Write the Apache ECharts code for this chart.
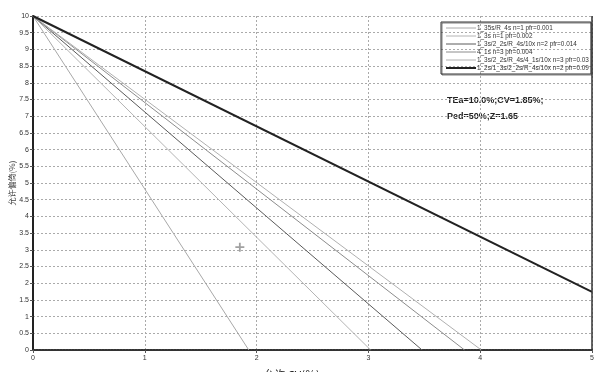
<!DOCTYPE html>
<html><head><meta charset="utf-8">
<script src="https://cdn.jsdelivr.net/npm/echarts@6/dist/echarts.min.js"></script>
<style>html,body{margin:0;padding:0;background:#fff}#c{width:600px;height:372px}</style>
</head><body><div id="c"></div>
<script>
// Data
const seriesNames = [
  '1_35s/R_4s n=1 pfr=0.001',
  '1_3s n=1 pfr=0.002',
  '1_3s/2_2s/R_4s/10x n=2 pfr=0.014',
  '4_1s n=3 pfr=0.004',
  '1_3s/2_2s/R_4s/4_1s/10x n=3 pfr=0.03',
  '1_2s/1_3s/2_2s/R_4s/10x n=2 pfr=0.09'
];
// each line runs from (start x, start y) to (end x, end y)
const lineStartX = [0, 0, 0, 0, 0, 0];
const lineStartY = [10, 10, 10, 10, 10, 10];
const lineEndX   = [1.93, 3.02, 3.48, 3.86, 4.01, 5];
const lineEndY   = [0, 0, 0, 0, 0, 1.74];
const lineColors = ['#a8a8a8', '#b4b4b4', '#5a5a5a', '#8c8c8c', '#b0b0b0', '#222222'];
const lineWidths = [1, 1, 1, 1, 1, 2];
const opPoint = [[1.85, 3.08]];
const yTicks = [0,0.5,1,1.5,2,2.5,3,3.5,4,4.5,5,5.5,6,6.5,7,7.5,8,8.5,9,9.5,10];
const xTicks = [0,1,2,3,4,5];

const chart = echarts.init(document.getElementById('c'), null, {renderer:'canvas'});
const series = seriesNames.map((n,i)=>({
  name:n, type:'line', symbol:'none', silent:true,
  data:[[lineStartX[i], lineStartY[i]], [lineEndX[i], lineEndY[i]]],
  lineStyle:{color:lineColors[i], width:lineWidths[i]},
  itemStyle:{color:lineColors[i]},
  z: i===5?5:3
}));
series.push({
  name:'op', type:'scatter', data:opPoint, symbolSize:9,
  symbol:'path://M4,0H6V4H10V6H6V10H4V6H0V4H4Z',
  itemStyle:{color:'#8a8a8a'}, z:6
});
chart.setOption({
  animation:false,
  backgroundColor:'#fff',
  textStyle:{fontFamily:'Liberation Sans, Arial, sans-serif'},
  grid:{left:33, right:8, top:16, bottom:22, show:false, outerBoundsMode:'none', containLabel:false},
  xAxis:{type:'value', min:0, max:5, interval:1,
    name:'允许 CV(％)', nameLocation:'middle', nameGap:19, nameMoveOverlap:false,
    nameTextStyle:{fontFamily:'Noto Sans CJK SC', fontSize:11, color:'#222', padding:[0,42,0,0]},
    axisLine:{show:true, lineStyle:{color:'#333', width:2, type:[2,1]}},
    axisTick:{show:true, length:3, lineStyle:{color:'#555'}},
    axisLabel:{fontSize:7, color:'#333', margin:5,
      formatter:v=>xTicks.includes(v)?String(v):''},
    splitLine:{show:true, lineStyle:{color:'#aaa', type:[2,2], width:1}}
  },
  yAxis:{type:'value', min:0, max:10, interval:0.5,
    name:'允许偏倚(%)', nameLocation:'middle', nameGap:17, nameRotate:90, nameMoveOverlap:false,
    nameTextStyle:{fontFamily:'Noto Sans CJK SC', fontSize:8, color:'#444'},
    axisLine:{show:true, lineStyle:{color:'#222', width:2}},
    axisTick:{show:true, length:3, lineStyle:{color:'#555'}},
    axisLabel:{fontSize:7, color:'#333', margin:4,
      formatter:v=>yTicks.includes(v)?String(v):''},
    splitLine:{show:true, lineStyle:{color:'#aaa', type:[2,2], width:1}}
  },
  legend:{
    data:seriesNames.map((n,i)=>({name:n, lineStyle:{width:lineWidths[i]}})),
    orient:'vertical', left:441, top:22,
    itemWidth:30, itemHeight:7, itemGap:2,
    padding:[3,2,3,4],
    itemStyle:{opacity:0},
    borderColor:'#333', borderWidth:1, backgroundColor:'rgba(255,255,255,0)',
    shadowColor:'rgba(0,0,0,0.5)', shadowOffsetX:1, shadowOffsetY:1,
    textStyle:{fontSize:6.4, color:'#333', padding:[0,0,0,-4]},
    selectedMode:false
  },
  graphic:[
    {type:'text', left:447, top:96, style:{text:'TEa=10.0%;CV=1.85%;', fontSize:9, fontWeight:'bold', fill:'#222', fontFamily:'Liberation Sans'}},
    {type:'text', left:447, top:112, style:{text:'Ped=50%;Z=1.65', fontSize:9, fontWeight:'bold', fill:'#222', fontFamily:'Liberation Sans'}},
    {type:'line', shape:{x1:592, y1:16, x2:592, y2:350}, style:{stroke:'#333', lineWidth:1.5}, z:10}
  ],
  series:series
});
</script></body></html>
